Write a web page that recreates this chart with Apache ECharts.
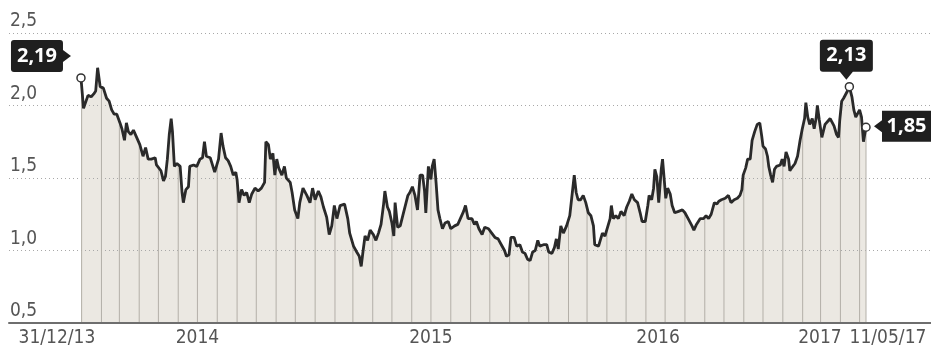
<!DOCTYPE html>
<html><head><meta charset="utf-8">
<script src="https://cdn.jsdelivr.net/npm/echarts@6/dist/echarts.min.js"></script>
<style>html,body{margin:0;padding:0;background:#fff}#c{width:931px;height:350px}</style>
</head><body><div id="c"></div>
<script>
// Data: days since 31/12/2013 and the series value.
const startDate = '2013-12-31';
const dayOffsets = [0,4,7,11,16,20,23,26,30,35,40,44,48,52,56,61,64,68,71,74,78,82,87,92,97,101,105,110,116,118,121,125,129,132,135,138,141,143,146,150,155,158,160,164,168,170,176,181,186,190,193,196,202,
209,215,219,222,226,230,234,238,242,244,247,251,255,259,263,267,272,277,282,287,289,293,296,300,303,306,309,314,318,321,327,330,334,339,342,347,353,358,362,366,371,375,379,384,388,392,396,400,405,
412,417,420,426,431,435,438,441,444,448,452,457,461,465,469,473,475,479,482,486,489,491,495,499,503,506,511,514,518,522,526,530,534,537,539,543,547,549,552,555,558,561,565,569,574,578,584,589,592,598,601,605,
611,615,618,622,627,631,637,642,647,652,657,662,665,669,672,677,681,686,690,694,698,702,706,710,714,717,723,728,731,736,740,743,746,750,754,759,764,768,771,774,777,781,785,789,793,797,801,803,809,
815,819,823,827,829,832,836,840,844,849,853,857,861,865,870,874,877,882,886,888,892,895,897,900,903,907,909,912,914,917,921,924,928,934,940,944,949,955,958,962,968,973,977,981,985,990,994,997,1001,1007,1012,
1016,1021,1026,1030,1033,1035,1039,1042,1046,1049,1053,1057,1061,1064,1066,1070,1073,1075,1078,1081,1084,1087,1093,1096,1099,1102,1106,1108,1111,1116,1120,1124,1127,1131,1133,1136,1139,1143,1146,1149,1151,1154,1158,1160,1163,1167,1171,1174,1177,1181,1184,1186,1189,1192,1194,1198,1201,1205,1208,1211,1214,1217,1220,1223,1227];
const values = [2.19,1.98,1.99,2.07,2.06,2.08,2.10,2.26,2.13,2.12,2.05,2.03,1.97,1.94,1.94,1.88,1.84,1.76,1.88,1.82,1.80,1.83,1.78,1.73,1.65,1.71,1.63,1.63,1.64,1.59,1.58,1.55,1.48,1.51,1.63,1.80,1.91,1.82,1.58,1.60,1.58,1.40,1.33,1.42,1.44,1.58,1.59,1.58,1.63,1.64,1.75,1.65,1.64,
1.54,1.63,1.81,1.72,1.64,1.62,1.58,1.52,1.54,1.49,1.33,1.42,1.38,1.40,1.33,1.39,1.43,1.41,1.43,1.47,1.75,1.73,1.63,1.67,1.52,1.63,1.57,1.52,1.58,1.50,1.47,1.40,1.28,1.22,1.33,1.43,1.38,1.33,1.43,1.35,1.41,1.37,1.30,1.23,1.11,1.17,1.31,1.22,1.31,
1.32,1.22,1.12,1.03,0.99,0.96,0.89,1.00,1.10,1.07,1.14,1.11,1.07,1.12,1.18,1.32,1.41,1.30,1.27,1.19,1.10,1.33,1.16,1.17,1.24,1.23,1.38,1.40,1.44,1.38,1.28,1.52,1.52,1.41,1.26,1.58,1.49,1.58,1.63,1.47,1.28,1.22,1.15,1.19,1.20,1.15,1.17,1.18,1.17,1.27,1.31,1.22,
1.22,1.18,1.20,1.15,1.11,1.16,1.15,1.12,1.09,1.08,1.04,1.00,0.96,0.97,1.09,1.09,1.03,1.04,0.99,0.98,0.94,0.93,0.99,1.00,1.07,1.03,1.04,1.04,0.99,0.98,1.02,1.08,1.01,1.17,1.12,1.17,1.24,1.40,1.52,1.40,1.35,1.35,1.38,1.33,1.26,1.24,1.17,1.04,1.03,
1.12,1.10,1.16,1.22,1.31,1.22,1.24,1.22,1.27,1.24,1.30,1.34,1.39,1.35,1.33,1.26,1.20,1.20,1.31,1.38,1.35,1.43,1.56,1.51,1.33,1.56,1.63,1.47,1.36,1.43,1.39,1.31,1.26,1.27,1.28,1.26,1.22,1.17,1.14,1.18,1.22,1.22,1.24,1.22,1.25,1.33,1.32,1.34,1.35,1.36,1.38,
1.33,1.35,1.36,1.38,1.42,1.52,1.57,1.63,1.63,1.76,1.82,1.87,1.88,1.79,1.72,1.70,1.65,1.58,1.52,1.47,1.56,1.58,1.59,1.63,1.58,1.68,1.63,1.55,1.57,1.60,1.65,1.76,1.83,1.91,2.02,1.92,1.87,1.91,1.84,1.91,2.00,1.90,1.78,1.77,1.87,1.89,1.91,1.92,1.86,1.80,1.78,1.90,2.03,2.05,2.06,2.10,2.13,2.06,1.97,1.92,1.91,1.97,1.92,1.75,1.85];
const tickDates = ['2013-12-31','2014-07-01','2015-07-01','2016-06-20','2017-02-28','2017-05-11'];
const tickLabels = ['31/12/13','2014','2015','2016','2017','11/05/17'];
const yTicks = [0.5, 1.0, 1.5, 2.0, 2.5];

const DAY = 86400000;
const t0 = Date.parse(startDate + 'T00:00:00Z');
const toDay = s => Math.round((Date.parse(s + 'T00:00:00Z') - t0) / DAY);
const seriesData = dayOffsets.map((d, i) => [d, values[i]]);
const last = values.length - 1;
const dEnd = dayOffsets[last];
const fmt = v => v.toFixed(2).replace('.', ',');

function valueAt(d) {
  for (let i = 0; i < last; i++) {
    if (d >= dayOffsets[i] && d <= dayOffsets[i + 1]) {
      const f = (d - dayOffsets[i]) / (dayOffsets[i + 1] - dayOffsets[i]);
      return values[i] + f * (values[i + 1] - values[i]);
    }
  }
  return values[last];
}
// monthly vertical rules under the curve
const ruleData = [];
for (let y = 2014; y <= 2017; y++) for (let m = 0; m < 12; m++) {
  const d = Math.round((Date.UTC(y, m, 1) - t0) / DAY);
  if (d >= 0 && d <= dEnd) ruleData.push([d, valueAt(d)]);
}
ruleData.push([dEnd, values[last]]);

// recent peak (2017) labelled in the chart
const recent = values.slice(250);
const maxI = 250 + recent.indexOf(Math.max(...recent));

const tickDays = tickDates.map(toDay);
const labelOf = {};
tickDays.forEach((d, i) => labelOf[d] = i);

const axisFont = "'Liberation Sans Narrow','DejaVu Sans Condensed','Open Sans',sans-serif";
const circle = {symbol: 'circle', symbolSize: 8, itemStyle: {color: '#fff', borderColor: '#333', borderWidth: 1.5}, label: {show: false}};
const calloutLabel = {show: true, position: 'inside', color: '#fff', fontWeight: 'bold', fontSize: 20, fontFamily: "'Open Sans',sans-serif"};

const chart = echarts.init(document.getElementById('c'), null, {renderer: 'canvas'});
chart.setOption({
  animation: false,
  grid: {left: 9, right: 0, top: 33, bottom: 27},
  xAxis: {
    type: 'value',
    min: -112.5,
    max: 1328.6,
    z: 6,
    axisLine: {show: true, onZero: false, lineStyle: {color: '#6e6e6e', width: 2}},
    axisTick: {show: false},
    splitLine: {show: false},
    axisLabel: {
      customValues: tickDays,
      margin: 6,
      color: '#555',
      fontSize: 19,
      fontFamily: axisFont,
      formatter: (v) => {
        const i = labelOf[v];
        if (i === undefined) return '';
        if (i === 0) return '{l|' + tickLabels[i] + '}';
        if (i === tickLabels.length - 1) return '{r|' + tickLabels[i] + '}';
        return tickLabels[i];
      },
      rich: {
        l: {padding: [0, 48, 0, 0], color: '#555', fontSize: 19, fontFamily: axisFont},
        r: {padding: [0, 0, 0, 44], color: '#555', fontSize: 19, fontFamily: axisFont}
      }
    }
  },
  yAxis: {
    type: 'value',
    min: yTicks[0],
    max: yTicks[yTicks.length - 1],
    interval: 0.5,
    z: 2,
    axisLine: {show: false},
    axisTick: {show: false},
    splitLine: {show: true, lineStyle: {color: '#a8a8a8', width: 1, type: [1, 3]}},
    axisLabel: {
      inside: true, margin: 1, verticalAlign: 'bottom', padding: [0, 0, 2, 0],
      color: '#555', fontSize: 19, fontFamily: axisFont,
      formatter: v => v.toFixed(1).replace('.', ',')
    }
  },
  series: [
    {
      type: 'line', data: seriesData, z: 1, silent: true, showSymbol: false,
      lineStyle: {width: 0}, areaStyle: {color: '#ebe8e2', opacity: 1, origin: 'start'}
    },
    {
      type: 'bar', data: ruleData, z: 3, silent: true, barWidth: 1,
      itemStyle: {color: '#b3afa8'}
    },
    {
      type: 'line', data: seriesData, z: 4, silent: true, showSymbol: false,
      lineStyle: {color: '#2a2a2a', width: 2.8},
      markPoint: {
        silent: true,
        data: [
          Object.assign({coord: [dayOffsets[0], values[0]]}, circle),
          Object.assign({coord: [dayOffsets[maxI], values[maxI]]}, circle),
          Object.assign({coord: [dEnd, values[last]]}, circle),
          {coord: [dayOffsets[0], values[0]], symbol: 'path://M3,0H49Q52,0 52,3V10L60,16L52,22V29Q52,32 49,32H3Q0,32 0,29V3Q0,0 3,0Z',
           symbolSize: [60, 32], symbolOffset: [-40, -22], itemStyle: {color: '#1f1f1f'},
           label: Object.assign({formatter: fmt(values[0]), offset: [-4, 0]}, calloutLabel)},
          {coord: [dayOffsets[maxI], values[maxI]], symbol: 'path://M3,0H50Q53,0 53,3V29Q53,32 50,32H33L26.5,40L20,32H3Q0,32 0,29V3Q0,0 3,0Z',
           symbolSize: [53, 40], symbolOffset: [-3, -27], itemStyle: {color: '#1f1f1f'},
           label: Object.assign({formatter: fmt(values[maxI]), offset: [0, -4]}, calloutLabel)},
          {coord: [dEnd, values[last]], symbol: 'path://M8,9.5L8,0H57V31H8V21.5L0,15.5Z',
           symbolSize: [57, 31], symbolOffset: [36.5, -1], itemStyle: {color: '#1f1f1f'},
           label: Object.assign({formatter: fmt(values[last]), offset: [4, 0]}, calloutLabel)}
        ]
      }
    }
  ]
});
</script>
</body></html>
